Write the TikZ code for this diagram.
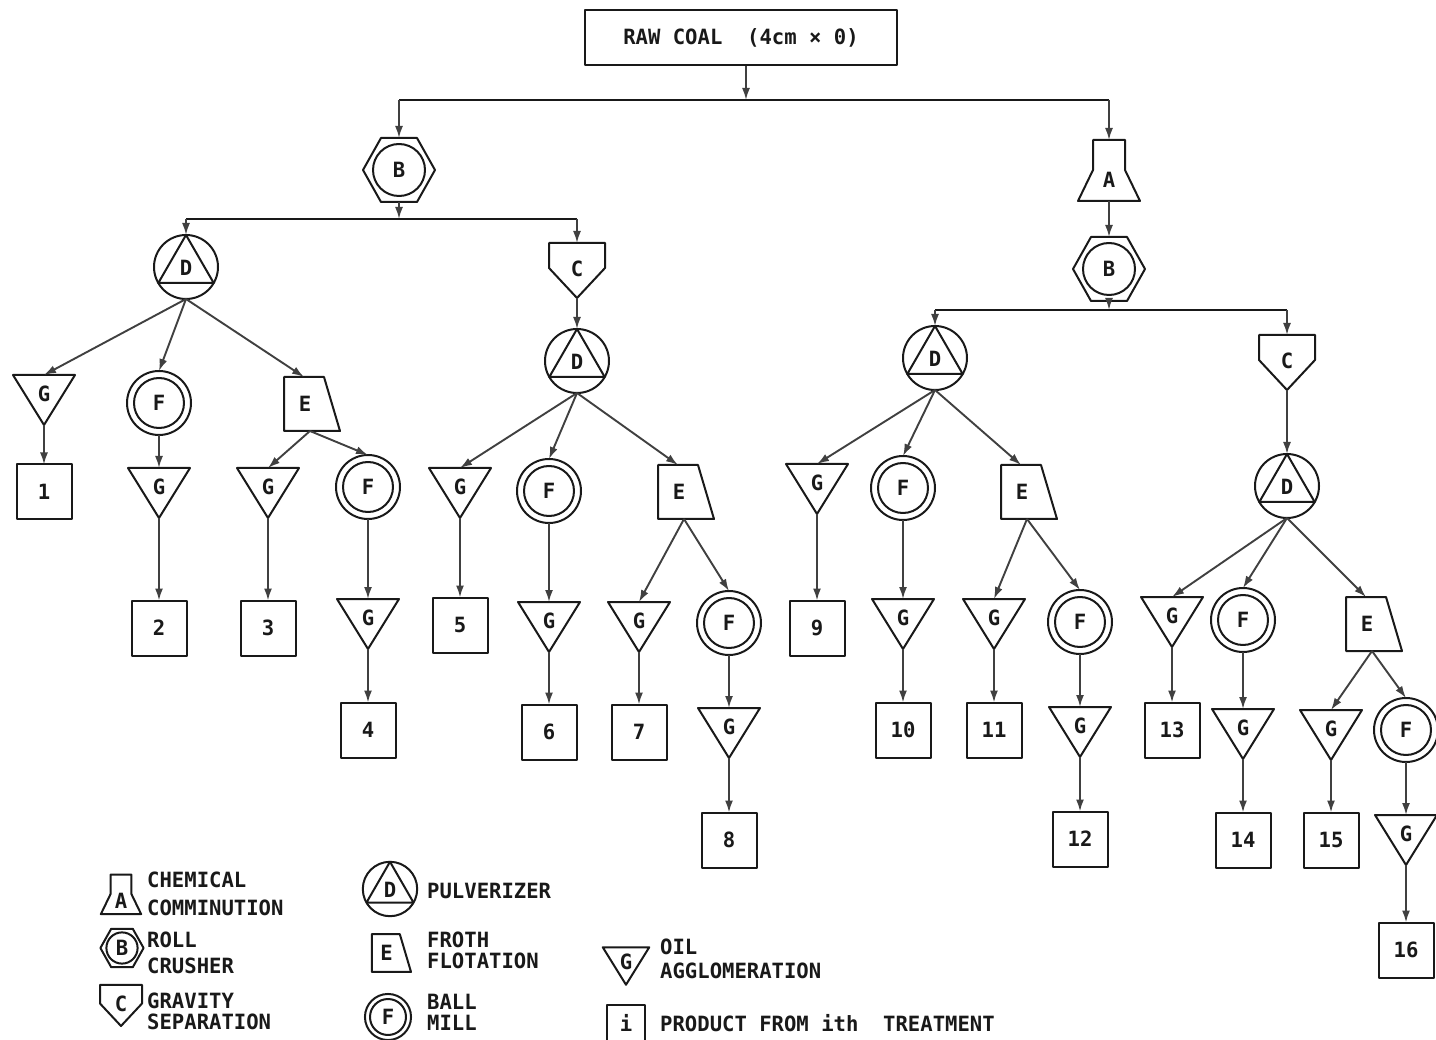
\documentclass[tikz,border=0pt]{standalone}
\usepackage{fontspec}
\usetikzlibrary{arrows.meta}
\newfontfamily\diafont{DejaVu Sans Mono}[FakeStretch=0.98]
\newcommand\dfont{\diafont\bfseries\fontsize{21}{24}\selectfont}

\tikzset{
  shp/.style={draw=black!90, line width=2pt, line join=round},
  conn/.style={draw=black!75, line width=1.9pt, -{Latex[length=12pt,width=8pt]}},
  bus/.style={draw=black!90, line width=1.9pt},
  lbl/.style={font=\dfont, inner sep=0pt, text=black!90, text height=15pt, text depth=0pt},
  ltxt/.style={font=\dfont, inner sep=0pt, anchor=west, text=black!90, text height=15pt, text depth=0pt},
  pics/gtri/.style={code={
    \draw[shp] (-31,-25) -- (31,-25) -- (0,25) -- cycle;
    \node[lbl] (-c) at (0,-6) {G};
    \coordinate (-t) at (0,-25);
    \coordinate (-b) at (0,25);
  }},
  pics/fmill/.style={code={
    \draw[shp] (0,0) circle[radius=32pt];
    \draw[shp] (0,0) circle[radius=25pt];
    \node[lbl] (-c) at (0,0) {F};
    \coordinate (-t) at (0,-32);
    \coordinate (-b) at (0,32);
  }},
  pics/dpul/.style={code={
    \draw[shp] (0,0) circle[radius=32pt];
    \draw[shp] (0,-32) -- (27.7,16) -- (-27.7,16) -- cycle;
    \node[lbl] (-c) at (0,1) {D};
    \coordinate (-t) at (0,-32);
    \coordinate (-b) at (0,32);
  }},
  pics/efroth/.style={code={
    \draw[shp] (-26,-27) -- (14,-27) -- (30,27) -- (-26,27) -- cycle;
    \node[lbl] (-c) at (-5,0) {E};
    \coordinate (-t) at (-6,-27);
    \coordinate (-b) at (0,27);
  }},
  pics/achem/.style={code={
    \draw[shp] (-16,-30) -- (16,-30) -- (16,0) -- (31,31) -- (-31,31) -- (-16,0) -- cycle;
    \node[lbl] (-c) at (0,10) {A};
    \coordinate (-t) at (0,-30);
    \coordinate (-b) at (0,31);
  }},
  pics/broll/.style={code={
    \draw[shp] (-18,-32) -- (18,-32) -- (36,0) -- (18,32) -- (-18,32) -- (-36,0) -- cycle;
    \draw[shp] (0,0) circle[radius=26pt];
    \node[lbl] (-c) at (0,0) {B};
    \coordinate (-t) at (0,-32);
    \coordinate (-b) at (0,32);
  }},
  pics/cgrav/.style={code={
    \draw[shp] (-28,-27) -- (28,-27) -- (28,-2) -- (0,28) -- (-28,-2) -- cycle;
    \node[lbl] (-c) at (0,-1) {C};
    \coordinate (-t) at (0,-27);
    \coordinate (-b) at (0,28);
  }},
  pics/prod/.style={code={
    \draw[shp] (-27.5,-27.5) rectangle (27.5,27.5);
    \node[lbl] (-c) at (0,0) {#1};
    \coordinate (-t) at (0,-27.5);
  }}
}

\begin{document}
\begin{tikzpicture}[x=1pt,y=-1pt]
\useasboundingbox (0,0) rectangle (1436,1040);
\fill[white] (0,0) rectangle (1436,1040);

% top
\node[shp, lbl, minimum width=312pt, minimum height=55pt] (raw) at (741,37.5) {RAW COAL\ \ (4cm × 0)};

% left branch
\pic (B1) at (399,170) {broll};
\pic (D1) at (186,267) {dpul};
\pic (C1) at (577,270) {cgrav};
\pic (D2) at (577,361) {dpul};

% right branch
\pic (A1) at (1109,170) {achem};
\pic (B2) at (1109,269) {broll};
\pic (D3) at (935,358) {dpul};
\pic (C2) at (1287,362) {cgrav};
\pic (D4) at (1287,486) {dpul};

% D1 subtree
\pic (G1) at (44,400) {gtri};
\pic (P1) at (44,492) {prod=1};
\pic (F2) at (159,403) {fmill};
\pic (G2) at (159,493) {gtri};
\pic (P2) at (159,628) {prod=2};
\pic (E1) at (310,404) {efroth};
\pic (G3) at (268,493) {gtri};
\pic (P3) at (268,628) {prod=3};
\pic (F4) at (368,487) {fmill};
\pic (G4) at (368,624) {gtri};
\pic (P4) at (368,730) {prod=4};

% D2 subtree
\pic (G5) at (460,493) {gtri};
\pic (P5) at (460,625) {prod=5};
\pic (F6) at (549,491) {fmill};
\pic (G6) at (549,627) {gtri};
\pic (P6) at (549,732) {prod=6};
\pic (E2) at (684,492) {efroth};
\pic (G7) at (639,627) {gtri};
\pic (P7) at (639,732) {prod=7};
\pic (F8) at (729,623) {fmill};
\pic (G8) at (729,733) {gtri};
\pic (P8) at (729,840) {prod=8};

% D3 subtree
\pic (G9) at (817,489) {gtri};
\pic (P9) at (817,628) {prod=9};
\pic (F10) at (903,488) {fmill};
\pic (G10) at (903,624) {gtri};
\pic (P10) at (903,730) {prod=10};
\pic (E3) at (1027,492) {efroth};
\pic (G11) at (994,624) {gtri};
\pic (P11) at (994,730) {prod=11};
\pic (F12) at (1080,622) {fmill};
\pic (G12) at (1080,732) {gtri};
\pic (P12) at (1080,839) {prod=12};

% D4 subtree
\pic (G13) at (1172,622) {gtri};
\pic (P13) at (1172,730) {prod=13};
\pic (F14) at (1243,620) {fmill};
\pic (G14) at (1243,734) {gtri};
\pic (P14) at (1243,840) {prod=14};
\pic (E4) at (1372,624) {efroth};
\pic (G15) at (1331,735) {gtri};
\pic (P15) at (1331,840) {prod=15};
\pic (F16) at (1406,730) {fmill};
\pic (G16) at (1406,840) {gtri};
\pic (P16) at (1406,950) {prod=16};

% junctions
\coordinate (j0) at (746,100);
\coordinate (j0L) at (B1-t |- j0);
\coordinate (j0R) at (A1-t |- j0);
\coordinate (j1) at (B1-b |- 0,219);
\coordinate (j1L) at (D1-t |- j1);
\coordinate (j1R) at (C1-t |- j1);
\coordinate (j2) at (B2-b |- 0,310);
\coordinate (j2L) at (D3-t |- j2);
\coordinate (j2R) at (C2-t |- j2);

\draw[conn] (raw.south -| j0) -- (j0);
\draw[bus] (j0L) -- (j0R);
\draw[conn] (j0L) -- (B1-t);
\draw[conn] (j0R) -- (A1-t);

\draw[conn] (B1-b) -- (j1);
\draw[bus] (j1L) -- (j1R);
\draw[conn] (j1L) -- (D1-t);
\draw[conn] (j1R) -- (C1-t);

\draw[conn] (A1-b) -- (B2-t);
\draw[conn] (B2-b) -- (j2);
\draw[bus] (j2L) -- (j2R);
\draw[conn] (j2L) -- (D3-t);
\draw[conn] (j2R) -- (C2-t);

\draw[conn] (C1-b) -- (D2-t);
\draw[conn] (C2-b) -- (D4-t);

\foreach \a/\b in {D1/G1, D1/F2, D1/E1, G1/P1, F2/G2, G2/P2, E1/G3, E1/F4, G3/P3, F4/G4, G4/P4,
                   D2/G5, D2/F6, D2/E2, G5/P5, F6/G6, G6/P6, E2/G7, E2/F8, G7/P7, F8/G8, G8/P8,
                   D3/G9, D3/F10, D3/E3, G9/P9, F10/G10, G10/P10, E3/G11, E3/F12, G11/P11, F12/G12, G12/P12,
                   D4/G13, D4/F14, D4/E4, G13/P13, F14/G14, G14/P14, E4/G15, E4/F16, G15/P15, F16/G16, G16/P16}
  \draw[conn] (\a-b) -- (\b-t);

% legend
\pic[scale=0.65] (LA) at (121,894) {achem};
\pic[scale=0.6] (LB) at (122,948) {broll};
\pic[scale=0.75] (LC) at (121,1005) {cgrav};
\pic[scale=0.85] (LD) at (390,889) {dpul};
\pic[scale=0.7] (LE) at (390,953) {efroth};
\pic[scale=0.72] (LF) at (388,1017) {fmill};
\pic[scale=0.75] (LG) at (626,966) {gtri};
\pic[scale=0.68] (LP) at (626,1024) {prod=i};

\node[ltxt] (t1) at (147,880) {CHEMICAL};
\node[ltxt] (t2) at (147,908) {COMMINUTION};
\node[ltxt] (t3) at (147,940) {ROLL};
\node[ltxt] (t4) at (147,966) {CRUSHER};
\node[ltxt] (t5) at (147,1001) {GRAVITY};
\node[ltxt] (t6) at (147,1022) {SEPARATION};
\node[ltxt] (t7) at (427,891) {PULVERIZER};
\node[ltxt] (t8) at (427,940) {FROTH};
\node[ltxt] (t9) at (427,961) {FLOTATION};
\node[ltxt] (t10) at (427,1002) {BALL};
\node[ltxt] (t11) at (427,1023) {MILL};
\node[ltxt] (t12) at (660,947) {OIL};
\node[ltxt] (t13) at (660,971) {AGGLOMERATION};
\node[ltxt] (t14) at (660,1024) {PRODUCT FROM ith\ \ TREATMENT};
\end{tikzpicture}
\end{document}
